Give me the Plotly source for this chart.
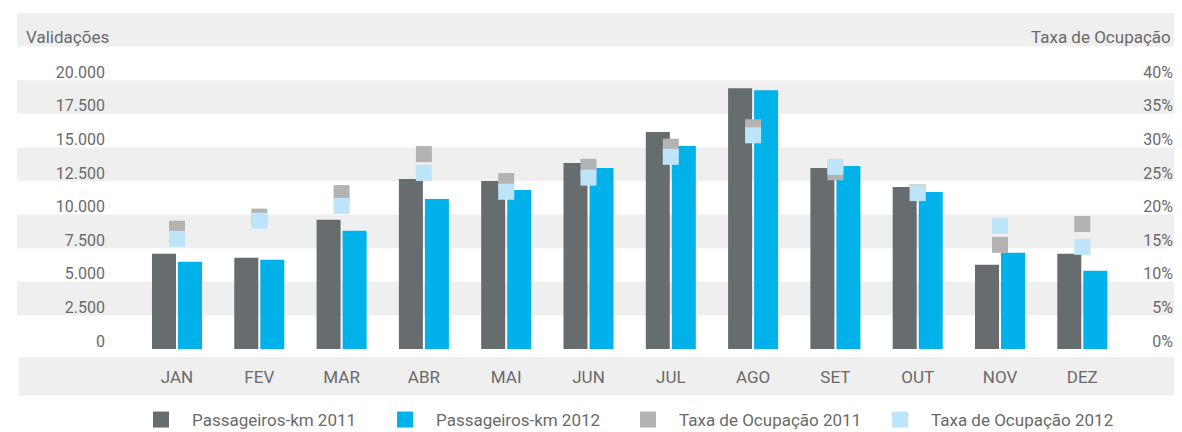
import plotly.graph_objects as go

months = ["JAN", "FEV", "MAR", "ABR", "MAI", "JUN", "JUL", "AGO", "SET", "OUT", "NOV", "DEZ"]
pkm_2011 = [7090, 6790, 9610, 12650, 12500, 13840, 16140, 19400, 13470, 12060, 6270, 7090]
pkm_2012 = [6490, 6640, 8790, 11170, 11840, 13470, 15100, 19260, 13620, 11690, 7160, 5830]
taxa_2011 = [0.179, 0.197, 0.232, 0.290, 0.250, 0.271, 0.301, 0.330, 0.263, 0.233, 0.155, 0.186]
taxa_2012 = [0.164, 0.191, 0.213, 0.262, 0.234, 0.255, 0.286, 0.318, 0.271, 0.232, 0.183, 0.152]
left_ticks = [0, 2500, 5000, 7500, 10000, 12500, 15000, 17500, 20000]
right_ticks = [0, 0.05, 0.10, 0.15, 0.20, 0.25, 0.30, 0.35, 0.40]

C_DARK = "#676c6f"
C_BLUE = "#00b1ea"
C_GREY = "#b3b3b3"
C_LBLUE = "#bde4f8"
C_BAND = "#efefef"
C_TEXT = "#6a6a6a"
FONT = "Roboto"
FS_TXT = 17
FS_NUM = 16

# the page body has an 8px margin, so the figure is drawn 8px in from the window corner
OFF = 8
W, H = 1182 - OFF, 432 - OFF
Y_TOP = 25000
STEP = 2500
R_TOP = 0.5
ZERO_Y, TOP_Y = 349.5, 13          # window pixel rows of 0 and of Y_TOP
PLOT_L, PLOT_R, PLOT_T, PLOT_B = 106, 1176, TOP_Y, 357.5   # window pixel coordinates
scale = (ZERO_Y - TOP_Y) / Y_TOP
Y_MIN = -(PLOT_B - ZERO_Y) / scale

ML = PLOT_L - OFF
MR = W - (PLOT_R - OFF)
MT = PLOT_T - OFF
MB = H - (PLOT_B - OFF)
plot_w = PLOT_R - PLOT_L
plot_h = PLOT_B - PLOT_T

CAT_PX = 82.3
FIRST_CAT_X = 177


def px_x(p):
    return (p - PLOT_L) / plot_w


def px_y(p):
    return (PLOT_B - p) / plot_h


def cont_y(p):
    return 1 - (p - OFF) / H


fig = go.Figure()
fig.add_trace(go.Bar(x=months, y=pkm_2011, name="Passageiros-km 2011",
                     marker=dict(color=C_DARK, line=dict(width=0)), showlegend=False))
fig.add_trace(go.Bar(x=months, y=pkm_2012, name="Passageiros-km 2012",
                     marker=dict(color=C_BLUE, line=dict(width=0)), showlegend=False))

# legend-only entries for the bars (square symbols like the reference)
fig.add_trace(go.Scatter(x=[None], y=[None], mode="markers", name="Passageiros-km 2011",
                         marker=dict(symbol="square", size=16, color=C_DARK), legendwidth=177))
fig.add_trace(go.Scatter(x=[None], y=[None], mode="markers", name="Passageiros-km 2012",
                         marker=dict(symbol="square", size=16, color=C_BLUE), legendwidth=176))

fig.add_trace(go.Scatter(x=months, y=taxa_2011, yaxis="y2", mode="markers",
                         name="Taxa de Ocupação 2011", legendwidth=185,
                         marker=dict(symbol="square", size=16, color=C_GREY, line=dict(width=0))))
fig.add_trace(go.Scatter(x=months, y=taxa_2012, yaxis="y2", mode="markers",
                         name="Taxa de Ocupação 2012", legendwidth=185,
                         marker=dict(symbol="square", size=16, color=C_LBLUE, line=dict(width=0))))

r0 = -(FIRST_CAT_X - PLOT_L) / CAT_PX
r1 = r0 + plot_w / CAT_PX

shapes = []
v = STEP
while v < Y_TOP:
    shapes.append(dict(type="rect", xref="paper", yref="y", x0=px_x(17), x1=px_x(1181),
                       y0=v, y1=v + STEP, fillcolor=C_BAND, line=dict(width=0), layer="below"))
    v += 2 * STEP
# band behind the month labels
shapes.append(dict(type="rect", xref="paper", yref="paper", x0=px_x(19), x1=px_x(1181),
                   y0=px_y(396), y1=px_y(357.5),
                   fillcolor=C_BAND, line=dict(width=0), layer="below"))

fig.update_layout(
    width=W, height=H,
    margin=dict(l=ML, r=MR, t=MT, b=MB, pad=0, autoexpand=False),
    paper_bgcolor="white", plot_bgcolor="rgba(0,0,0,0)",
    separators=",.",
    font=dict(family=FONT, size=FS_TXT, color=C_TEXT),
    barmode="group", bargap=0.368, bargroupgap=0.077,
    shapes=shapes,
    xaxis=dict(type="category", range=[r0, r1], showgrid=False, zeroline=False,
               showline=False, ticks="", ticklabelstandoff=8, automargin=False,
               tickfont=dict(family=FONT, size=FS_TXT, color=C_TEXT)),
    yaxis=dict(range=[Y_MIN, Y_TOP], tickvals=left_ticks, tickformat=",d",
               showgrid=False, zeroline=False, showline=False, ticks="", automargin=False,
               ticklabelposition="outside", ticklabelshift=-8,
               tickfont=dict(family=FONT, size=FS_NUM, color=C_TEXT)),
    yaxis2=dict(range=[Y_MIN / Y_TOP * R_TOP, R_TOP], overlaying="y", side="right",
                tickvals=right_ticks, automargin=False,
                tickformat=".0%", showgrid=False, zeroline=False, showline=False, ticks="",
                ticklabelposition="inside", ticklabelshift=-8,
                tickfont=dict(family=FONT, size=FS_NUM, color=C_TEXT)),
    legend=dict(orientation="h", x=px_x(130), xanchor="left",
                yref="container", y=cont_y(420), yanchor="middle",
                font=dict(family=FONT, size=FS_TXT, color=C_TEXT),
                itemwidth=52, bgcolor="rgba(0,0,0,0)", traceorder="normal"),
    annotations=[
        dict(text="Validações", xref="paper", yref="y", x=px_x(24), y=Y_TOP - STEP,
             yshift=10, xanchor="left", yanchor="middle", showarrow=False,
             font=dict(family=FONT, size=FS_TXT, color=C_TEXT)),
        dict(text="Taxa de Ocupação", xref="paper", yref="y", x=px_x(1173),
             y=Y_TOP - STEP, yshift=10, xanchor="right", yanchor="middle", showarrow=False,
             font=dict(family=FONT, size=FS_TXT, color=C_TEXT)),
    ],
)

fig.write_html("out.html")
